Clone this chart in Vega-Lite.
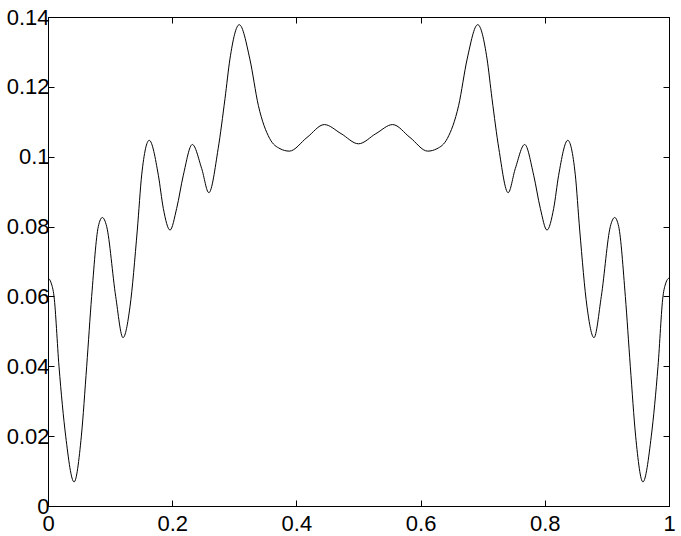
{
  "$schema": "https://vega.github.io/schema/vega-lite/v6.json",
  "width": 621,
  "height": 489,
  "autosize": {"type": "none"},
  "padding": {"left": 48, "top": 17, "right": 12, "bottom": 30},
  "background": "white",
  "config": {
    "view": {"stroke": "black", "strokeWidth": 1},
    "axis": {
      "grid": false,
      "domainColor": "black",
      "domainWidth": 1,
      "tickColor": "black",
      "tickWidth": 1,
      "tickSize": -6,
      "labelFont": "Liberation Sans",
      "labelFontSize": 22,
      "labelColor": "black",
      "title": null
    }
  },
  "data": {
    "values": [
      {"x": 0, "y": 0.0653}, {"x": 0.005, "y": 0.0639}, {"x": 0.0097, "y": 0.060}, {"x": 0.0177, "y": 0.040},
      {"x": 0.0285, "y": 0.020}, {"x": 0.042, "y": 0.0069}, {"x": 0.0537, "y": 0.020}, {"x": 0.0623, "y": 0.040},
      {"x": 0.0703, "y": 0.060}, {"x": 0.081, "y": 0.080}, {"x": 0.0875, "y": 0.0826}, {"x": 0.0945, "y": 0.080},
      {"x": 0.109, "y": 0.060}, {"x": 0.1208, "y": 0.0482}, {"x": 0.132, "y": 0.057}, {"x": 0.1438, "y": 0.079},
      {"x": 0.151, "y": 0.095}, {"x": 0.163, "y": 0.1047}, {"x": 0.1777, "y": 0.0947}, {"x": 0.1857, "y": 0.0852},
      {"x": 0.1965, "y": 0.079}, {"x": 0.2072, "y": 0.0852}, {"x": 0.2179, "y": 0.0947}, {"x": 0.2324, "y": 0.1035},
      {"x": 0.2475, "y": 0.0966}, {"x": 0.259, "y": 0.0897}, {"x": 0.274, "y": 0.1023}, {"x": 0.285, "y": 0.1166},
      {"x": 0.293, "y": 0.128}, {"x": 0.308, "y": 0.1378}, {"x": 0.325, "y": 0.128}, {"x": 0.3387, "y": 0.1147},
      {"x": 0.357, "y": 0.1052}, {"x": 0.3736, "y": 0.1023}, {"x": 0.3886, "y": 0.1016}, {"x": 0.417, "y": 0.1055},
      {"x": 0.445, "y": 0.1092}, {"x": 0.472, "y": 0.1066}, {"x": 0.5, "y": 0.1037},
      {"x": 0.528, "y": 0.1066}, {"x": 0.555, "y": 0.1092}, {"x": 0.583, "y": 0.1055}, {"x": 0.6114, "y": 0.1016},
      {"x": 0.6264, "y": 0.1023}, {"x": 0.643, "y": 0.1052}, {"x": 0.6613, "y": 0.1147}, {"x": 0.675, "y": 0.128},
      {"x": 0.692, "y": 0.1378}, {"x": 0.707, "y": 0.128}, {"x": 0.715, "y": 0.1166}, {"x": 0.726, "y": 0.1023},
      {"x": 0.741, "y": 0.0897}, {"x": 0.7525, "y": 0.0966}, {"x": 0.7676, "y": 0.1035}, {"x": 0.7821, "y": 0.0947},
      {"x": 0.7928, "y": 0.0852}, {"x": 0.8035, "y": 0.079}, {"x": 0.8143, "y": 0.0852}, {"x": 0.8223, "y": 0.0947},
      {"x": 0.837, "y": 0.1047}, {"x": 0.849, "y": 0.095}, {"x": 0.8562, "y": 0.079}, {"x": 0.868, "y": 0.057},
      {"x": 0.8792, "y": 0.0482}, {"x": 0.891, "y": 0.060}, {"x": 0.9055, "y": 0.080}, {"x": 0.9125, "y": 0.0826},
      {"x": 0.919, "y": 0.080}, {"x": 0.9297, "y": 0.060}, {"x": 0.9377, "y": 0.040}, {"x": 0.9463, "y": 0.020},
      {"x": 0.958, "y": 0.0069}, {"x": 0.9715, "y": 0.020}, {"x": 0.9823, "y": 0.040}, {"x": 0.9903, "y": 0.060},
      {"x": 0.995, "y": 0.0639}, {"x": 1, "y": 0.0653}
    ]
  },
  "layer": [
    {
      "mark": {"type": "line", "color": "black", "strokeWidth": 1, "interpolate": "monotone"},
      "encoding": {
        "x": {"field": "x", "type": "quantitative", "scale": {"domain": [0, 1], "nice": false, "zero": false},
              "axis": {"orient": "bottom", "values": [0, 0.2, 0.4, 0.6, 0.8, 1], "format": "~g", "labelPadding": 13, "labelFlush": false}},
        "y": {"field": "y", "type": "quantitative", "scale": {"domain": [0, 0.14], "nice": false, "zero": false},
              "axis": {"orient": "left", "values": [0, 0.02, 0.04, 0.06, 0.08, 0.1, 0.12, 0.14], "format": "~g", "labelPadding": 5, "labelFlush": false}}
      }
    },
    {
      "mark": {"type": "line", "color": "black", "strokeWidth": 1, "interpolate": "monotone", "opacity": 0},
      "encoding": {
        "x": {"field": "x", "type": "quantitative", "scale": {"domain": [0, 1], "nice": false, "zero": false},
              "axis": {"orient": "top", "values": [0, 0.2, 0.4, 0.6, 0.8, 1], "labels": false}},
        "y": {"field": "y", "type": "quantitative", "scale": {"domain": [0, 0.14], "nice": false, "zero": false},
              "axis": {"orient": "right", "values": [0, 0.02, 0.04, 0.06, 0.08, 0.1, 0.12, 0.14], "labels": false}}
      }
    }
  ],
  "resolve": {"axis": {"x": "independent", "y": "independent"}}
}
